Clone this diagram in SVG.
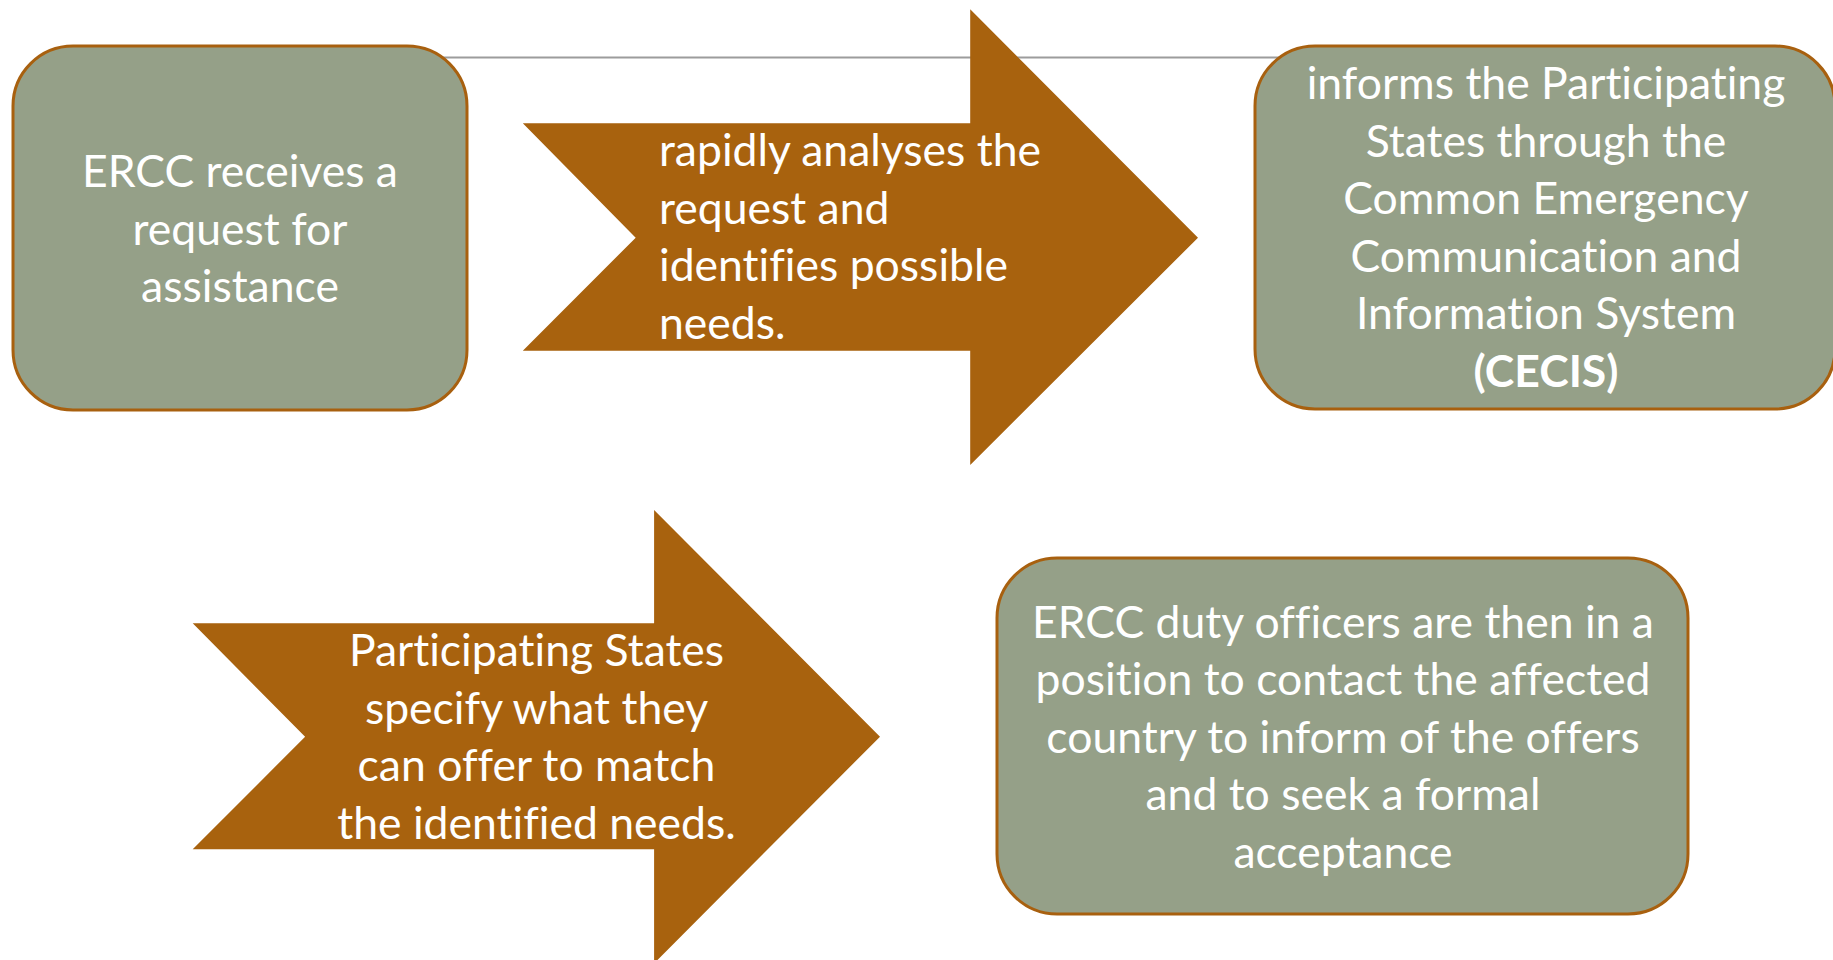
<svg xmlns="http://www.w3.org/2000/svg" width="1833" height="960" viewBox="0 0 1833 960">
  <style>
    .box { fill: #95A088; stroke: #A8600F; stroke-width: 3; }
    .arrow { fill: #A8620E; }
    .link { stroke: #9C9C9C; stroke-width: 2; fill: none; }
    text { font-family: Lato, "Open Sans", "Liberation Sans", sans-serif; font-size: 44.5px; fill: #FFFFFF; font-variant-ligatures: none; }
    .c { text-anchor: middle; }
    .b { font-weight: bold; }
  </style>
  <rect width="1833" height="960" fill="#FFFFFF"/>

  <!-- connector between the two top boxes, running behind the shapes -->
  <g id="connectors">
    <line class="link" x1="240" y1="57.5" x2="1545" y2="57.5"/>
  </g>

  <g id="step1">
    <rect class="box" x="13" y="46" width="454" height="364" rx="60" ry="60"/>
    <text class="c" x="240" y="187">ERCC receives a</text>
    <text class="c" x="240" y="244.5">request for</text>
    <text class="c" x="240" y="302">assistance</text>
  </g>

  <g id="step2">
    <path class="arrow" d="M522.8,123.3 L970.2,123.3 L970.2,9.3 L1198,237.7 L970.2,465 L970.2,350.7 L522.8,350.7 L635.7,237.7 Z"/>
    <text x="659" y="166">rapidly analyses the</text>
    <text x="659" y="223.5">request and</text>
    <text x="659" y="281">identifies possible</text>
    <text x="659" y="338.5">needs.</text>
  </g>

  <g id="step3">
    <rect class="box" x="1255" y="46" width="580" height="363" rx="60" ry="60"/>
    <text class="c" x="1546" y="99">informs the Participating</text>
    <text class="c" x="1546" y="156.5">States through the</text>
    <text class="c" x="1546" y="214">Common Emergency</text>
    <text class="c" x="1546" y="271.5">Communication and</text>
    <text class="c" x="1546" y="329">Information System</text>
    <text class="c b" x="1546" y="386.5">(CECIS)</text>
  </g>

  <g id="step4">
    <path class="arrow" d="M192.7,623.3 L654.1,623.3 L654.1,510 L880,736.7 L654.1,963.4 L654.1,849.3 L192.7,849.3 L305.1,736.7 Z"/>
    <text class="c" x="536.5" y="666">Participating States</text>
    <text class="c" x="536.5" y="723.5">specify what they</text>
    <text class="c" x="536.5" y="781">can offer to match</text>
    <text class="c" x="536.5" y="838.5">the identified needs.</text>
  </g>

  <g id="step5">
    <rect class="box" x="997" y="558" width="691" height="356" rx="60" ry="60"/>
    <text class="c" x="1343" y="637.5">ERCC duty officers are then in a</text>
    <text class="c" x="1343" y="695">position to contact the affected</text>
    <text class="c" x="1343" y="752.5">country to inform of the offers</text>
    <text class="c" x="1343" y="810">and to seek a formal</text>
    <text class="c" x="1343" y="867.5">acceptance</text>
  </g>
</svg>
